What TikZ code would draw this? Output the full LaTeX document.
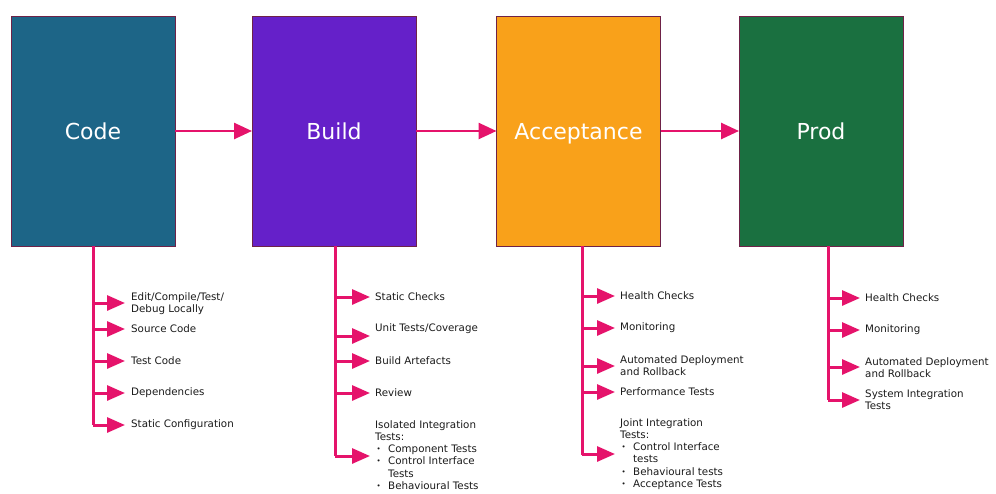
\documentclass[tikz,border=0pt]{standalone}
\usepackage{fontspec}
\setmainfont{DejaVu Sans}
\usepackage{xcolor}
\usetikzlibrary{positioning,arrows.meta}

\definecolor{codeblue}{HTML}{1D6587}
\definecolor{buildpurple}{HTML}{6520C9}
\definecolor{accorange}{HTML}{F9A11A}
\definecolor{prodgreen}{HTML}{1A7040}
\definecolor{stageborder}{HTML}{6E2248}
\definecolor{linkpink}{HTML}{E5136B}
\definecolor{textgray}{HTML}{1A1A1A}

\newcommand{\bul}{\makebox[13pt][l]{\hspace{1.5pt}\raisebox{1pt}{\fontsize{7}{7}\selectfont •}}}

\begin{document}
\begin{tikzpicture}[x=1pt, y=-1pt,
			stage/.style={draw=stageborder, line width=0.8pt, minimum width=164pt, minimum height=230pt, inner sep=0pt, outer sep=0pt, text=white, text height=16pt, text depth=0pt, font=\fontsize{22}{26}\selectfont},
			flow/.style={draw=linkpink, line width=2.6pt, -{Triangle[length=18pt,width=16pt]}},
			branch/.style={draw=linkpink, line width=3pt, -{Triangle[length=18pt,width=15pt]}},
			trunk/.style={draw=linkpink, line width=3pt},
			item/.style={anchor=west, inner sep=0pt, align=left, text=textgray, font=\fontsize{10.3}{12.2}\selectfont}]
			
			\useasboundingbox (0,0) rectangle (996,493);
			
			% stages
			\node[stage, fill=codeblue] (code) at (93,131) {Code};
			\node[stage, fill=buildpurple] (build) at (334,131) {Build};
			\node[stage, fill=accorange] (acc) at (578.5,131) {Acceptance};
			\node[stage, fill=prodgreen] (prod) at (821,131) {Prod};
			
			\draw[flow] (code) -- (build);
			\draw[flow] (build) -- (acc);
			\draw[flow] (acc) -- (prod);
			
			% code column
			\coordinate (codeend) at (93,425);
			\draw[trunk] (code.south) -- (codeend);
			\foreach \y [count=\i] in {303,329,361,393,425}
				\coordinate (c\i) at (125,\y);
			\foreach \i in {1,...,5}
				\draw[branch] (c\i -| codeend) -- (c\i);
			\node[item] (ct1) at (131,304) {Edit/Compile/Test/\\Debug Locally};
			\node[item] (ct2) at (131,329) {Source Code};
			\node[item] (ct3) at (131,361) {Test Code};
			\node[item] (ct4) at (131,393) {Dependencies};
			\node[item] (ct5) at (131,425) {Static Configuration};
			
			% build column
			\coordinate (buildend) at (335,456);
			\draw[trunk] (build.south -| buildend) -- (buildend);
			\foreach \y [count=\i] in {297,336,361,393,456}
				\coordinate (b\i) at (370,\y);
			\foreach \i in {1,...,5}
				\draw[branch] (b\i -| buildend) -- (b\i);
			\node[item] (bt1) at (375,297) {Static Checks};
			\node[item] (bt2) at (375,329) {Unit Tests/Coverage};
			\node[item] (bt3) at (375,361) {Build Artefacts};
			\node[item] (bt4) at (375,393) {Review};
			\node[item] (bt5) at (375,455) {Isolated Integration\\Tests:\\\bul Component Tests\\\bul Control Interface\\\hspace*{13pt}Tests\\\bul Behavioural Tests};
			
			% acceptance column
			\coordinate (accend) at (582,455);
			\draw[trunk] (acc.south -| accend) -- (accend);
			\foreach \y [count=\i] in {296,328,366,392,454}
				\coordinate (a\i) at (615,\y);
			\foreach \i in {1,...,5}
				\draw[branch] (a\i -| accend) -- (a\i);
			\node[item] (at1) at (620,296) {Health Checks};
			\node[item] (at2) at (620,328) {Monitoring};
			\node[item] (at3) at (620,366) {Automated Deployment\\and Rollback};
			\node[item] (at4) at (620,392) {Performance Tests};
			\node[item] (at5) at (620,454) {Joint Integration\\Tests:\\\bul Control Interface\\\hspace*{13pt}tests\\\bul Behavioural tests\\\bul Acceptance Tests};
			
			% prod column
			\coordinate (prodend) at (828,400);
			\draw[trunk] (prod.south -| prodend) -- (prodend);
			\foreach \y [count=\i] in {298,330,367,400}
				\coordinate (p\i) at (860,\y);
			\foreach \i in {1,...,4}
				\draw[branch] (p\i -| prodend) -- (p\i);
			\node[item] (pt1) at (865,298) {Health Checks};
			\node[item] (pt2) at (865,330) {Monitoring};
			\node[item] (pt3) at (865,368) {Automated Deployment\\and Rollback};
			\node[item] (pt4) at (865,400) {System Integration\\Tests};
			
		\end{tikzpicture}
\end{document}
